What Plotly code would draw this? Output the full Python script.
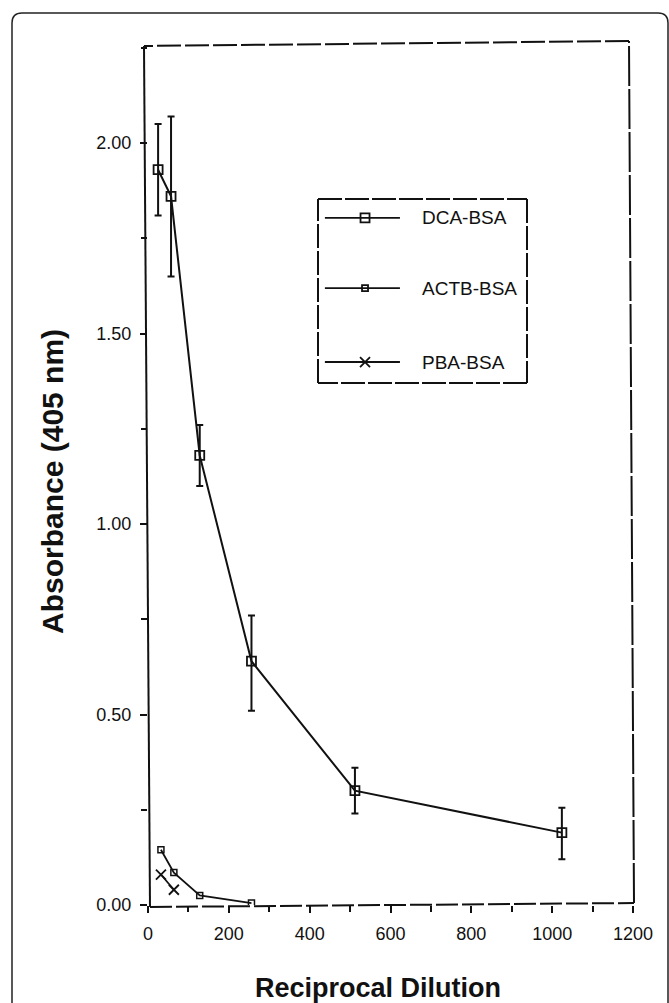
import plotly.graph_objects as go

# Reciprocal dilution series
dca_x = [25, 57, 128, 256, 512, 1024]
dca_y = [1.93, 1.86, 1.18, 0.64, 0.30, 0.19]
dca_err_plus = [0.12, 0.21, 0.08, 0.12, 0.06, 0.065]
dca_err_minus = [0.12, 0.21, 0.08, 0.13, 0.06, 0.07]

actb_x = [32, 64, 128, 256]
actb_y = [0.145, 0.085, 0.025, 0.005]

pba_x = [32, 64]
pba_y = [0.08, 0.04]

series_names = ["DCA-BSA", "ACTB-BSA", "PBA-BSA"]
x_ticks = [0, 200, 400, 600, 800, 1000, 1200]
y_ticks = [0.0, 0.5, 1.0, 1.5, 2.0]
x_title = "Reciprocal Dilution"
y_title = "Absorbance (405 nm)"

W, H = 669, 1003
L, R, T, B = 148, 36, 44, 98
PW, PH = W - L - R, H - T - B


def px(xp):
    return (xp - L) / PW


def py(yp):
    return (H - B - yp) / PH


FONT = "Liberation Sans, Arial, sans-serif"

fig = go.Figure()

fig.add_trace(go.Scatter(
    x=dca_x, y=dca_y, mode="lines+markers", name=series_names[0],
    line=dict(color="#111", width=2),
    marker=dict(symbol="square-open", size=9, color="#111", line=dict(width=1.8)),
    error_y=dict(type="data", symmetric=False, array=dca_err_plus,
                 arrayminus=dca_err_minus, color="#111", thickness=2, width=3.5),
    showlegend=False,
))
fig.add_trace(go.Scatter(
    x=actb_x, y=actb_y, mode="lines+markers", name=series_names[1],
    line=dict(color="#111", width=1.8),
    marker=dict(symbol="square-open", size=6, color="#111", line=dict(width=1.5)),
    showlegend=False,
))
fig.add_trace(go.Scatter(
    x=pba_x, y=pba_y, mode="lines+markers", name=series_names[2],
    line=dict(color="#111", width=1.8),
    marker=dict(symbol="x-thin-open", size=10, color="#111", line=dict(width=1.8, color="#111")),
    showlegend=False,
))

# Legend key drawn inside its own framed box
leg_x0, leg_x1, leg_y0, leg_y1 = 318, 527, 199, 383
leg_rows = [0.897, 0.516, 0.114]
leg_symbols = [("square-open", 9), ("square-open", 6), ("x-thin-open", 10)]
for name, ry, (sym, size) in zip(series_names, leg_rows, leg_symbols):
    fig.add_trace(go.Scatter(
        x=[0.033, 0.392], y=[ry, ry], mode="lines", xaxis="x2", yaxis="y2",
        line=dict(color="#111", width=1.8), showlegend=False, hoverinfo="skip",
    ))
    fig.add_trace(go.Scatter(
        x=[0.225], y=[ry], mode="markers", xaxis="x2", yaxis="y2",
        marker=dict(symbol=sym, size=size, color="#111", line=dict(width=1.8, color="#111")),
        showlegend=False, hoverinfo="skip",
    ))
    fig.add_annotation(x=0.488, y=ry, xref="x2", yref="y2", text=name,
                       showarrow=False, xanchor="left", yanchor="middle",
                       font=dict(family=FONT, size=19, color="#111"))

# axis titles
fig.add_annotation(x=px(378), y=py(988), xref="paper", yref="paper",
                   text=f"<b>{x_title}</b>", showarrow=False,
                   xanchor="center", yanchor="middle",
                   font=dict(family=FONT, size=27, color="#111"))
fig.add_annotation(x=px(52), y=py(482), xref="paper", yref="paper",
                   text=f"<b>{y_title}</b>", showarrow=False, textangle=-90,
                   xanchor="center", yanchor="middle",
                   font=dict(family=FONT, size=30, color="#111"))

shapes = []
# plot frame, slightly uneven like a hand-ruled box
frame = [
    ((144, 46), (150, 907), "solid"),
    ((150, 907), (634, 903), "22px,4px"),
    ((634, 903), (629, 41), "40px,3px"),
    ((629, 41), (144, 46), "24px,4px"),
]
for (xa, ya), (xb, yb), dash in frame:
    shapes.append(dict(type="line", xref="paper", yref="paper",
                       x0=px(xa), y0=py(ya), x1=px(xb), y1=py(yb),
                       line=dict(color="#111", width=2, dash=dash)))
# legend frame
for (xa, ya), (xb, yb) in [((leg_x0, leg_y0), (leg_x1, leg_y0)),
                           ((leg_x1, leg_y0), (leg_x1, leg_y1)),
                           ((leg_x1, leg_y1), (leg_x0, leg_y1)),
                           ((leg_x0, leg_y1), (leg_x0, leg_y0))]:
    shapes.append(dict(type="line", xref="paper", yref="paper",
                       x0=px(xa), y0=py(ya), x1=px(xb), y1=py(yb),
                       line=dict(color="#111", width=2, dash="24px,3px")))

# rounded outer border of the panel
r = 10
ox0, oy0, ox1, oy1 = 12, 13, 668, 1015
path = (f"M {px(ox0)},{py(oy1)} L {px(ox0)},{py(oy0 + r)} "
        f"Q {px(ox0)},{py(oy0)} {px(ox0 + r)},{py(oy0)} "
        f"L {px(ox1 - r)},{py(oy0)} Q {px(ox1)},{py(oy0)} {px(ox1)},{py(oy0 + r)} "
        f"L {px(ox1)},{py(oy1)}")
shapes.append(dict(type="path", xref="paper", yref="paper", path=path,
                   line=dict(color="#222", width=1.5)))

fig.update_layout(
    width=W, height=H,
    margin=dict(l=L, r=R, t=T, b=B, pad=0, autoexpand=False),
    paper_bgcolor="white", plot_bgcolor="white",
    font=dict(family=FONT, color="#111"),
    shapes=shapes,
    xaxis=dict(
        range=[0, 1200], tickvals=x_ticks, ticktext=[str(v) for v in x_ticks],
        showgrid=False, zeroline=False, showline=False, automargin=False,
        ticks="outside", ticklen=7, tickwidth=2, tickcolor="#111",
        ticklabelstandoff=5,
        minor=dict(dtick=100, ticks="outside", ticklen=6, tickwidth=2, tickcolor="#111"),
        tickfont=dict(size=18, color="#111"),
    ),
    yaxis=dict(
        range=[0, 2.26], tickvals=y_ticks, ticktext=[f"{v:.2f}" for v in y_ticks],
        showgrid=False, zeroline=False, showline=False, automargin=False,
        ticks="outside", ticklen=7, tickwidth=2, tickcolor="#111",
        ticklabelstandoff=5,
        minor=dict(dtick=0.25, ticks="outside", ticklen=6, tickwidth=2, tickcolor="#111"),
        tickfont=dict(size=18, color="#111"),
    ),
    xaxis2=dict(domain=[px(leg_x0), px(leg_x1)], range=[0, 1], visible=False, anchor="y2"),
    yaxis2=dict(domain=[py(leg_y1), py(leg_y0)], range=[0, 1], visible=False, anchor="x2"),
)

fig.write_html("out.html")
